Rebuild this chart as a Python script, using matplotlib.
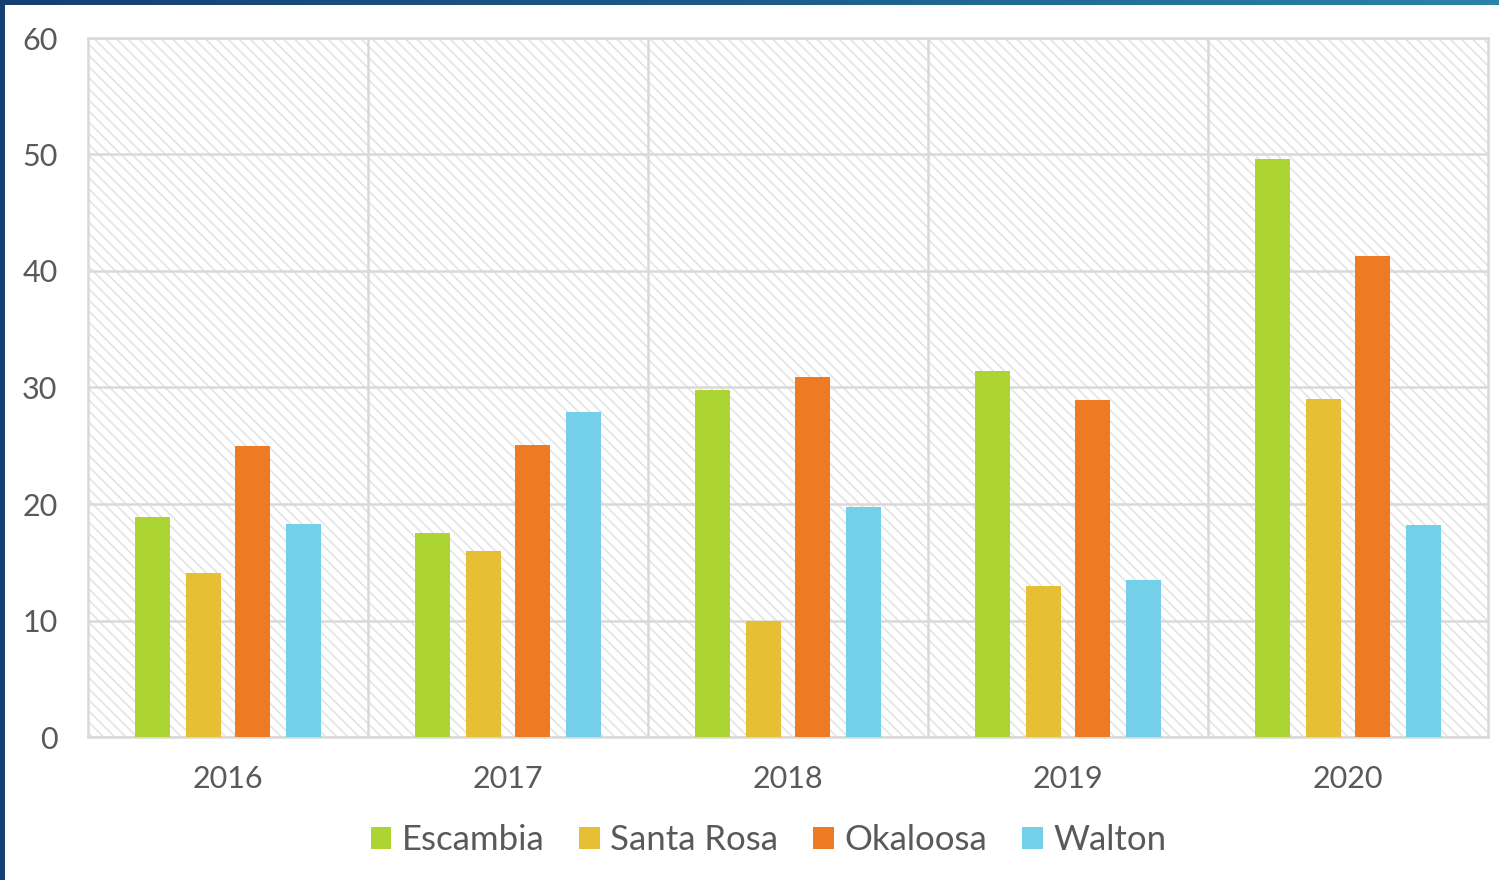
import matplotlib

matplotlib.use("Agg")
import matplotlib.pyplot as plt
import numpy as np
from matplotlib.colors import LinearSegmentedColormap
from matplotlib.patches import Rectangle

years = ["2016", "2017", "2018", "2019", "2020"]
counties = ["Escambia", "Santa Rosa", "Okaloosa", "Walton"]
escambia = [18.9, 17.5, 29.8, 31.4, 49.6]
santa_rosa = [14.1, 16.0, 10.0, 13.0, 29.0]
okaloosa = [25.0, 25.1, 30.9, 28.9, 41.3]
walton = [18.3, 27.9, 19.7, 13.5, 18.2]
colors = ["#acd433", "#e6bf35", "#ee7b24", "#74cfea"]

text_color = "#595959"
grid_color = "#d9d9d9"
plt.rcParams["font.family"] = ["Lato", "DejaVu Sans"]
plt.rcParams["hatch.linewidth"] = 1.1

fig = plt.figure(figsize=(14.99, 8.80), dpi=100, facecolor="white")
ax = fig.add_axes([88 / 1499, 1 - 737 / 880, 1400 / 1499, 699 / 880])

# hatched background of the plot area
ax.add_patch(Rectangle((0, 0), 1, 1, transform=ax.transAxes, facecolor="white",
                       edgecolor="#e2e2e2", linewidth=0, hatch="\\\\\\", zorder=0))
ax.set_facecolor("white")

x = np.arange(len(years))
series = [escambia, santa_rosa, okaloosa, walton]
offsets = [-0.268, -0.089, 0.089, 0.268]
for vals, off, col, name in zip(series, offsets, colors, counties):
    ax.bar(x + off, vals, width=0.125, color=col, label=name, zorder=3)

ax.set_xlim(-0.5, len(years) - 0.5)
ax.set_ylim(0, 60)
ax.set_yticks(range(0, 61, 10))
ax.set_xticks(x)
ax.set_xticklabels(years)
ax.set_xticks(np.arange(0.5, len(years) - 0.5), minor=True)
ax.grid(axis="y", which="major", color=grid_color, lw=1.8, zorder=1)
ax.grid(axis="x", which="minor", color=grid_color, lw=1.8, zorder=1)
ax.tick_params(which="both", length=0)
ax.tick_params(axis="y", labelsize=22, labelcolor=text_color, pad=22)
ax.tick_params(axis="x", labelsize=22, labelcolor=text_color, pad=20)
for s in ax.spines.values():
    s.set_color(grid_color)
    s.set_linewidth(1.8)

ax.legend(loc="center", bbox_to_anchor=(0.486, -0.148), ncol=4, frameon=False,
          fontsize=25, labelcolor=text_color, handlelength=0.6, handleheight=0.6,
          handletextpad=0.3, columnspacing=1.0)

# dark blue frame: left edge and gradient top bar
fig.patches.append(Rectangle((0, 0), 5 / 1499, 1, transform=fig.transFigure,
                             facecolor="#163f74", edgecolor="none", zorder=10))
bar_ax = fig.add_axes([0, 1 - 5 / 880, 1, 5 / 880])
cmap = LinearSegmentedColormap.from_list("frame", ["#163f74", "#1d5b8c", "#2a84a8"])
bar_ax.imshow(np.linspace(0, 1, 256)[None, :], aspect="auto", cmap=cmap)
bar_ax.axis("off")

fig.savefig("out.png", dpi=100, facecolor="white")
plt.close(fig)
